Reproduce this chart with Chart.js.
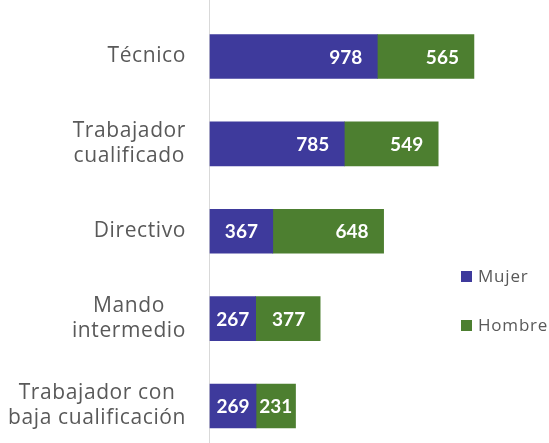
<!DOCTYPE html>
<html>
<head>
<meta charset="utf-8">
<script src="https://cdn.jsdelivr.net/npm/chart.js@4/dist/chart.umd.min.js"></script>
<style>
  html, body { margin: 0; padding: 0; background: #fff; }
  canvas { display: block; }
</style>
</head>
<body>
<canvas id="chart" width="549" height="443"></canvas>
<script>
const categories = [
    ['Técnico'],
    ['Trabajador', 'cualificado'],
    ['Directivo'],
    ['Mando', 'intermedio'],
    ['Trabajador con', 'baja cualificación']
];
const mujer = [978, 785, 367, 267, 269];
const hombre = [565, 549, 648, 377, 231];
const seriesNames = ['Mujer', 'Hombre'];
const seriesColors = ['#3e3a9c', '#4d7f30'];

const textGrey = '#595959';
const labelFont = '21px "Open Sans", Lato, sans-serif';
const valueFont = 'bold 19px Lato, "Open Sans", sans-serif';
const legendFont = '17px "Open Sans", Lato, sans-serif';

// axis line, category labels, value labels and legend, drawn Excel-style
const excelLook = {
    id: 'excelLook',
    beforeDatasetsDraw(chart) {
        const ctx = chart.ctx;
        const left = Math.round(chart.chartArea.left) - 0.5;
        ctx.save();
        ctx.strokeStyle = '#d9d9d9';
        ctx.lineWidth = 1;
        ctx.beginPath();
        ctx.moveTo(left, 0);
        ctx.lineTo(left, chart.height);
        ctx.stroke();
        ctx.restore();
    },
    afterDatasetsDraw(chart) {
        const ctx = chart.ctx;
        const yScale = chart.scales.y;
        ctx.save();

        // category labels: block right-aligned, lines centred inside block
        ctx.font = labelFont;
        ctx.letterSpacing = '0.6px';
        ctx.fillStyle = textGrey;
        ctx.textAlign = 'center';
        ctx.textBaseline = 'middle';
        const rightEdge = 186;
        const lineH = 25;
        categories.forEach((lines, i) => {
            const blockW = Math.max(...lines.map(l => ctx.measureText(l).width));
            const cx = rightEdge - blockW / 2;
            const cy = yScale.getPixelForValue(i);
            lines.forEach((l, j) => {
                ctx.fillText(l, cx, cy + (j - (lines.length - 1) / 2) * lineH);
            });
        });

        // value labels, inside end
        ctx.font = valueFont;
        ctx.letterSpacing = '0px';
        ctx.fillStyle = '#ffffff';
        ctx.textAlign = 'right';
        chart.data.datasets.forEach((ds, di) => {
            chart.getDatasetMeta(di).data.forEach((bar, i) => {
                const txt = String(ds.data[i]);
                const w = ctx.measureText(txt).width;
                const seg = bar.x - bar.base;
                const pad = Math.max(1, Math.min(15, (seg - w) / 2));
                ctx.fillText(txt, bar.x - pad, bar.y + 1);
            });
        });

        // legend
        ctx.font = legendFont;
        ctx.letterSpacing = '0.8px';
        ctx.textAlign = 'left';
        seriesNames.forEach((name, k) => {
            const y = 271 + k * 49;
            ctx.fillStyle = seriesColors[k];
            ctx.fillRect(461, y, 11, 11);
            ctx.fillStyle = textGrey;
            ctx.fillText(name, 478, y + 6);
        });
        ctx.restore();
    }
};

new Chart(document.getElementById('chart'), {
    type: 'bar',
    data: {
        labels: categories,
        datasets: [
            {label: seriesNames[0], data: mujer, backgroundColor: seriesColors[0], barThickness: 44, clip: false},
            {label: seriesNames[1], data: hombre, backgroundColor: seriesColors[1], barThickness: 44, clip: false}
        ]
    },
    options: {
        indexAxis: 'y',
        responsive: false,
        animation: false,
        layout: {
            padding: {left: 210, right: 14, top: 56.5, bottom: 37}
        },
        scales: {
            x: {stacked: true, display: false, min: 0, max: 1900},
            y: {stacked: true, display: false, offset: false}
        },
        plugins: {
            legend: {display: false},
            tooltip: {enabled: false}
        }
    },
    plugins: [excelLook]
});
</script>
</body>
</html>
